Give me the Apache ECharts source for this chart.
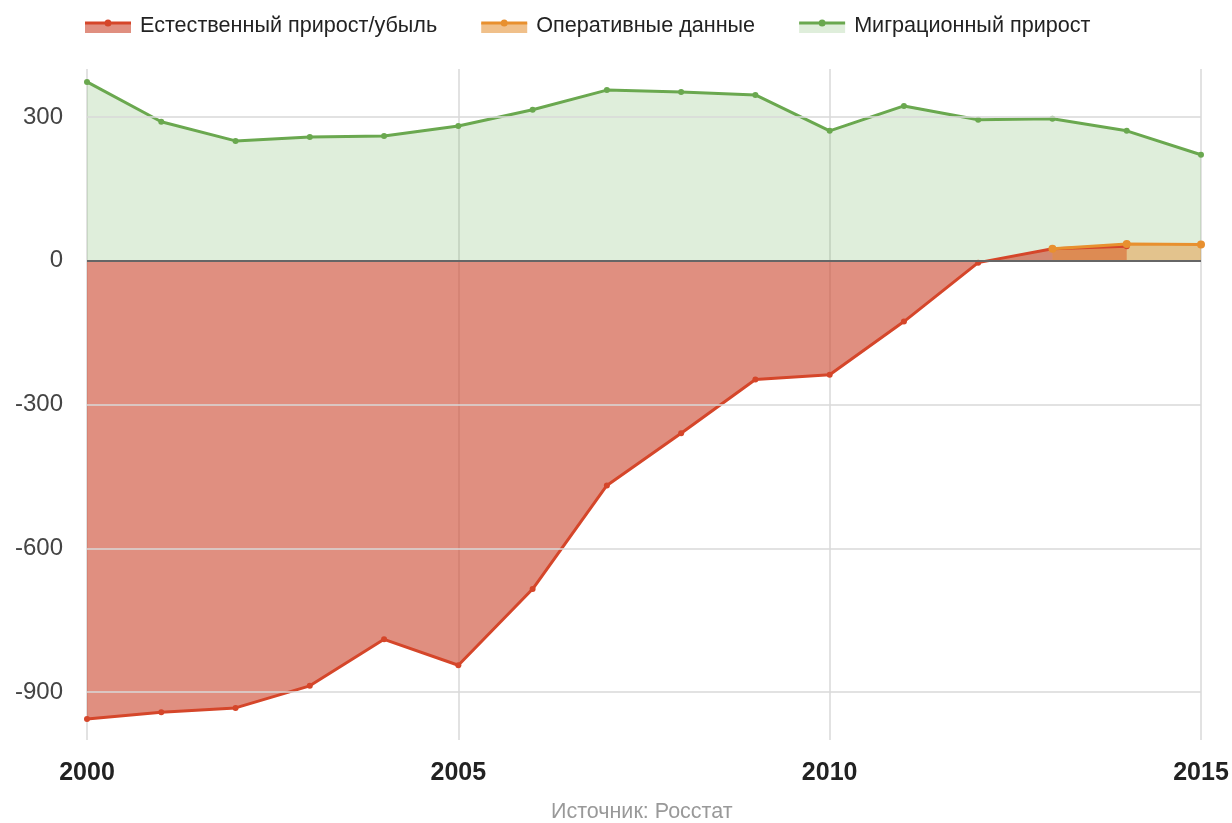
<!DOCTYPE html>
<html><head><meta charset="utf-8">
<script src="https://cdn.jsdelivr.net/npm/echarts@6/dist/echarts.min.js"></script>
<style>html,body{margin:0;padding:0;background:#fff}#c{width:1232px;height:823px}</style>
</head><body><div id="c"></div>
<script>
const years = [2000,2001,2002,2003,2004,2005,2006,2007,2008,2009,2010,2011,2012,2013,2014,2015];
const natural = [-956,-942,-933,-887,-790,-844,-685,-469,-360,-248,-238,-127,-4,25,30,null];
const operative = [null,null,null,null,null,null,null,null,null,null,null,null,null,25,35,34];
const migration = [373,290,250,258,260,281,315,356,352,346,271,323,294,296,271,221];
const yTicks = [300,0,-300,-600,-900];
const names = ['Естественный прирост/убыль','Оперативные данные','Миграционный прирост'];
const source = 'Источник: Росстат';

const pairs = a => years.map((y,i)=>[y,a[i]]);
const font = '"Liberation Sans", Arial, sans-serif';
const legendBase = {left:80, top:10, itemWidth:46, itemHeight:14, itemGap:44,
  textStyle:{fontSize:21.6, fontFamily:font, color:'#222', padding:[0,0,0,4]}};
const fillIcon = 'path://M0,0h0.01v0.01h-0.01z M0,4h46v10h-46z';
const lineIcon = 'path://M0,0h0.01v0.01h-0.01z M0,2.5h46v3h-46z M19.5,4a3.5,3.5 0 1,1 7,0a3.5,3.5 0 1,1 -7,0z M45.99,13.99h0.01v0.01h-0.01z';

const gridLines = yTicks.map(v => ({yAxis:v, lineStyle: v===0 ? {color:'#666', width:2, type:'solid'} : {color:'#d9d9d9', width:1.5, type:'solid'}}));

const chart = echarts.init(document.getElementById('c'));
chart.setOption({
  animation:false,
  legend:[
    Object.assign({}, legendBase, {icon:fillIcon, data:[
      {name:names[0], itemStyle:{color:'#e08f80'}},
      {name:names[1], itemStyle:{color:'#f0c08a'}},
      {name:names[2], itemStyle:{color:'#dfeedb'}}]}),
    Object.assign({}, legendBase, {icon:lineIcon, textStyle:Object.assign({}, legendBase.textStyle, {color:'rgba(0,0,0,0)'}), data:[
      {name:names[0], itemStyle:{color:'#d5462a'}},
      {name:names[1], itemStyle:{color:'#e8902f'}},
      {name:names[2], itemStyle:{color:'#6aa84f'}}]})
  ],
  grid:{left:87, right:31, top:69, bottom:83},
  title:{text:source, left:551, bottom:0, padding:0, textStyle:{fontSize:21.5, fontWeight:'normal', color:'#999', fontFamily:font}},
  xAxis:{type:'value', min:2000, max:2015, interval:5,
    axisLine:{show:false}, axisTick:{show:false},
    splitLine:{show:true, lineStyle:{color:'#d9d9d9', width:1.5}},
    axisLabel:{fontSize:25, fontWeight:'bold', color:'#222', fontFamily:font, margin:21,
      formatter: v => String(v)}},
  yAxis:{type:'value', min:-1000, max:400, interval:100,
    axisLine:{show:false}, axisTick:{show:false}, splitLine:{show:false},
    axisLabel:{fontSize:24, color:'#444', fontFamily:font, margin:24,
      formatter: v => (yTicks.indexOf(v) >= 0 ? String(v) : '')}},
  series:[
    {name:names[2], type:'line', data:pairs(migration), symbol:'circle', symbolSize:6,
      itemStyle:{color:'#6aa84f'}, lineStyle:{color:'#6aa84f', width:3},
      areaStyle:{color:'rgba(95,170,75,0.2)', opacity:1, origin:0}},
    {name:names[0], type:'line', data:pairs(natural), symbol:'circle', symbolSize:6,
      itemStyle:{color:'#d5462a'}, lineStyle:{color:'#d5462a', width:3},
      areaStyle:{color:'rgba(203,68,43,0.6)', opacity:1, origin:0}},
    {name:names[1], type:'line', data:pairs(operative), symbol:'circle', symbolSize:8,
      itemStyle:{color:'#e8902f'}, lineStyle:{color:'#e8902f', width:3},
      areaStyle:{color:'rgba(232,144,47,0.45)', opacity:1, origin:0},
      markLine:{silent:true, symbol:'none', label:{show:false}, data:gridLines}}
  ]
});
</script></body></html>
